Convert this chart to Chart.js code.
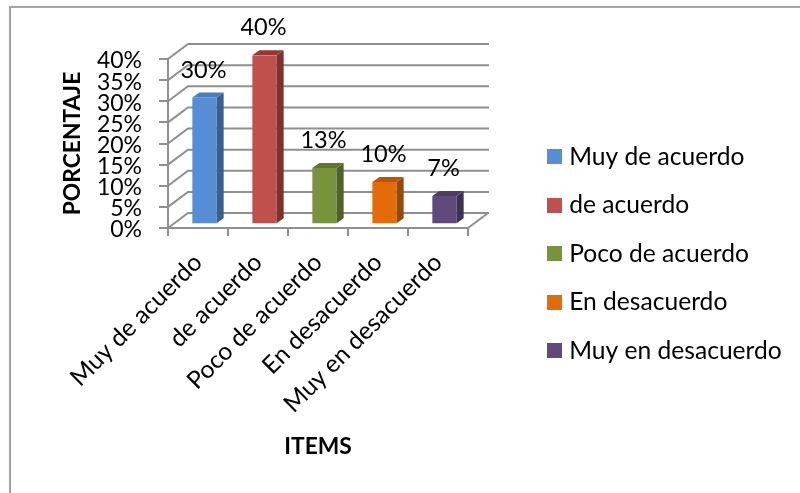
<!DOCTYPE html>
<html>
<head>
<meta charset="utf-8">
<title>Porcentaje por items</title>
<script src="https://cdn.jsdelivr.net/npm/chart.js@4"></script>
<style>
  html, body { margin: 0; padding: 0; background: #fff; overflow: hidden; }
  #marco { position: absolute; left: 9px; top: 6px; right: -4px; bottom: -4px; border: 2px solid #a3a3a3; }
  #grafico { position: absolute; left: 0; top: 0; }
</style>
</head>
<body>
<div id="marco"></div>
<canvas id="grafico" width="800" height="493"></canvas>
<script>
const categorias = ["Muy de acuerdo", "de acuerdo", "Poco de acuerdo", "En desacuerdo", "Muy en desacuerdo"];
const valores = [30, 40, 13.3, 10, 6.7];

const frente = ["#558ed5", "#c0504d", "#77933c", "#e36c09", "#604a7b"];
const lado = ["#376092", "#7f302e", "#4f6228", "#974806", "#3f3151"];
const techo = ["#4a7ebb", "#953735", "#5f7530", "#b65708", "#4f3d66"];

const GRIS = "#8f8f8f";
const FUENTE = "Lato";

// back wall offset of the fake 3D box
const paredX = 20;
const paredY = 15;
// bars stand a little inside the box
const barraX = 6.5;
const barraY = 3.7;
const fondoX = 7;
const fondoY = 5;

// square used as legend symbol, the default box leaves too much gap before the text
const cuadro = function (color) {
  const c = document.createElement("canvas");
  c.width = 15;
  c.height = 15;
  const g = c.getContext("2d");
  g.fillStyle = color;
  g.fillRect(0, 0, 15, 15);
  return c;
};

const poligono = function (ctx, color, puntos) {
  ctx.fillStyle = color;
  ctx.beginPath();
  puntos.forEach((p, i) => (i ? ctx.lineTo(p[0], p[1]) : ctx.moveTo(p[0], p[1])));
  ctx.closePath();
  ctx.fill();
};

const caja3d = {
  id: "caja3d",
  beforeDraw(chart) {
    // legend goes where the reference has it, away from the plot
    chart.legend.left = 528;
    chart.legend.right = 800;
    chart.legend.top = 120.5;
  },
  beforeDatasetsDraw(chart) {
    const ctx = chart.ctx;
    const { left, right } = chart.chartArea;
    const y = chart.scales.y;
    // side wall and back wall lines
    ctx.save();
    ctx.strokeStyle = GRIS;
    ctx.lineWidth = 2;
    y.ticks.forEach((t) => {
      const py = y.getPixelForValue(t.value);
      ctx.beginPath();
      ctx.moveTo(left, py);
      ctx.lineTo(left + paredX, py - paredY);
      ctx.lineTo(right + paredX + 1, py - paredY);
      ctx.stroke();
    });
    // floor edge on the right
    const py0 = y.getPixelForValue(0);
    ctx.beginPath();
    ctx.moveTo(right, py0);
    ctx.lineTo(right + paredX, py0 - paredY);
    ctx.stroke();
    ctx.restore();
    ctx.save();
    ctx.translate(barraX, -barraY);
  },
  afterDatasetsDraw(chart) {
    const ctx = chart.ctx;
    const barras = chart.getDatasetMeta(0).data;
    barras.forEach((b, i) => {
      const izq = b.x - b.width / 2;
      const der = b.x + b.width / 2;
      poligono(ctx, lado[i], [[der, b.y], [der + fondoX, b.y - fondoY], [der + fondoX, b.base - fondoY], [der, b.base]]);
      poligono(ctx, techo[i], [[izq, b.y], [izq + fondoX, b.y - fondoY], [der + fondoX, b.y - fondoY], [der, b.y]]);
    });
    ctx.restore();
    // value labels
    ctx.save();
    ctx.font = `23.5px ${FUENTE}`;
    ctx.fillStyle = "#000";
    ctx.textAlign = "center";
    ctx.textBaseline = "middle";
    barras.forEach((b, i) => {
      ctx.fillText(Math.round(valores[i]) + "%", b.x + barraX - 1, b.y - barraY - 27.5);
    });
    ctx.restore();
  },
};

new Chart(document.getElementById("grafico"), {
  type: "bar",
  data: {
    labels: categorias,
    datasets: [
      {
        label: "Porcentaje",
        data: valores,
        backgroundColor: frente,
        borderWidth: 0,
        categoryPercentage: 1,
        barPercentage: 0.405,
      },
    ],
  },
  plugins: [caja3d],
  options: {
    responsive: false,
    animation: false,
    color: "#000",
    layout: { padding: { left: 59, top: 59, right: 132, bottom: 33 } },
    plugins: {
      tooltip: { enabled: false },
      legend: {
        position: "right",
        align: "start",
        maxWidth: 200,
        labels: {
          color: "#000",
          font: { family: FUENTE, size: 24.6 },
          usePointStyle: true,
          pointStyleWidth: 5,
          padding: 23.9,
          generateLabels: () =>
            categorias.map((c, i) => ({
              text: c,
              fillStyle: frente[i],
              pointStyle: cuadro(frente[i]),
              lineWidth: 0,
              index: i,
            })),
        },
      },
    },
    scales: {
      x: {
        afterFit(scale) {
          scale.height = 232;
        },
        grid: { drawOnChartArea: false, color: GRIS, lineWidth: 2, tickLength: 8 },
        border: { color: GRIS, width: 2 },
        ticks: {
          autoSkip: false,
          minRotation: 45,
          maxRotation: 45,
          color: "#000",
          padding: 12,
          font: { family: FUENTE, size: 24.5 },
        },
        title: {
          display: true,
          text: "ITEMS",
          color: "#000",
          padding: 0,
          font: { family: FUENTE, size: 22.8, weight: "bold" },
        },
      },
      y: {
        min: 0,
        max: 40,
        afterFit(scale) {
          scale.width = 109;
        },
        grid: { drawOnChartArea: false, color: GRIS, lineWidth: 2, tickLength: 9 },
        border: { color: GRIS, width: 2 },
        ticks: {
          stepSize: 5,
          autoSkip: false,
          color: "#000",
          padding: 17,
          labelOffset: 2,
          font: { family: FUENTE, size: 23 },
          callback: (v) => v + "%",
        },
        title: {
          display: true,
          text: "PORCENTAJE",
          color: "#000",
          padding: 0,
          font: { family: FUENTE, size: 22.8, weight: "bold" },
        },
      },
    },
  },
});
</script>
</body>
</html>
